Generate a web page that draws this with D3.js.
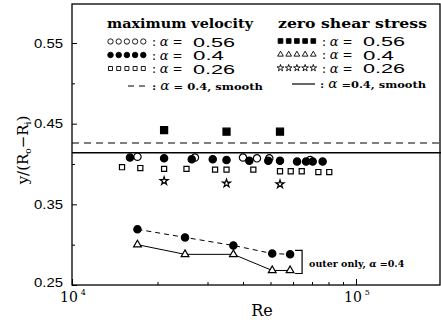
<!DOCTYPE html>
<html>
<head>
<meta charset="utf-8">
<script src="https://cdn.jsdelivr.net/npm/d3@7"></script>
<style>
body { margin: 0; background: #fff; }
text { fill: #000; }
</style>
</head>
<body>
<div id="chart"></div>
<script>
// Reynolds number / position data
const maxVel056Re = [17000, 27100, 40000, 44800, 49500, 68900];
const maxVel056Y = [0.409, 0.408, 0.408, 0.407, 0.407, 0.405];

const maxVel04Re = [16000, 21100, 26400, 31300, 35000, 42100, 49100, 54000, 62000, 66700, 70400, 76300];
const maxVel04Y = [0.408, 0.407, 0.406, 0.406, 0.405, 0.404, 0.404, 0.404, 0.403, 0.403, 0.403, 0.403];

const maxVel026Re = [15000, 17400, 21100, 25300, 31900, 35000, 43500, 54000, 58900, 64400, 73700, 80500];
const maxVel026Y = [0.396, 0.395, 0.394, 0.394, 0.393, 0.393, 0.393, 0.391, 0.391, 0.391, 0.390, 0.390];

const zeroShearRe = [21100, 35000, 54000];
const zeroShear056Y = [0.442, 0.440, 0.440];
const zeroShear026Y = [0.379, 0.376, 0.375];

// alpha = 0.4 smooth wall reference levels
const maxVelSmooth = 0.426;
const zeroShearSmooth = 0.414;

// outer wall only, alpha = 0.4
const outerRe = [17000, 25000, 37000, 50700, 58600];
const outerMaxVelY = [0.319, 0.309, 0.299, 0.289, 0.288];
const outerZeroShearY = [0.300, 0.288, 0.288, 0.268, 0.268];

const yMajorTicks = [0.25, 0.35, 0.45, 0.55];
const yMinorTicks = [0.30, 0.40, 0.50];
const xMajorTicks = [1e4, 1e5];
const xMinorTicks = [2e4, 3e4, 4e4, 5e4, 6e4, 7e4, 8e4, 9e4];

const W = 441, H = 320;
const plotLeft = 72, plotRight = 440, plotTop = 4, plotBottom = 285;

const svg = d3.select('#chart').append('svg')
    .attr('width', W).attr('height', H);

const x = d3.scaleLog().domain([1e4, 2e5]).range([plotLeft, plotRight + 1.5]);
const y = d3.scaleLinear().domain([0.25, 0.6]).range([plotBottom, plotBottom - 0.35 * 806.7]);

// frame
svg.append('rect')
    .attr('x', plotLeft).attr('y', plotTop)
    .attr('width', plotRight - plotLeft).attr('height', plotBottom - plotTop)
    .attr('fill', 'none').attr('stroke', '#000').attr('stroke-width', 1.3);

// y axis (ticks point inward)
const yAxis = svg.append('g')
    .attr('transform', `translate(${plotLeft},0)`)
    .call(d3.axisLeft(y).tickValues(yMajorTicks).tickSize(-5).tickPadding(9)
        .tickFormat(d3.format('.2f')));
yAxis.select('.domain').remove();
yAxis.selectAll('text')
    .attr('font-family', 'Liberation Sans, Arial, sans-serif')
    .attr('font-size', 13)
    .attr('textLength', 29)
    .attr('lengthAdjust', 'spacingAndGlyphs');
yAxis.selectAll('.tick').filter(d => d === 0.25).select('text').attr('dy', '0.1em');

const yMinor = svg.append('g')
    .attr('transform', `translate(${plotLeft},0)`)
    .call(d3.axisLeft(y).tickValues(yMinorTicks).tickSize(-3).tickFormat(''));
yMinor.select('.domain').remove();

// x axis
const xAxis = svg.append('g')
    .attr('transform', `translate(0,${plotBottom})`)
    .call(d3.axisBottom(x).tickValues(xMajorTicks).tickSize(-6).tickFormat(''));
xAxis.select('.domain').remove();
const xMinor = svg.append('g')
    .attr('transform', `translate(0,${plotBottom})`)
    .call(d3.axisBottom(x).tickValues(xMinorTicks).tickSize(-3).tickFormat(''));
xMinor.select('.domain').remove();

const xLabels = svg.append('g').selectAll('text')
    .data(xMajorTicks)
    .enter().append('text')
    .attr('x', d => x(d) - 12)
    .attr('y', 302)
    .attr('font-family', 'DejaVu Serif, serif')
    .attr('font-size', 14);
xLabels.append('tspan').text('10');
xLabels.append('tspan')
    .attr('dx', 3).attr('dy', -7)
    .attr('font-size', 8)
    .text(d => Math.round(Math.log10(d)));

// axis titles
svg.append('text')
    .attr('x', 262).attr('y', 316)
    .attr('text-anchor', 'middle')
    .attr('font-family', 'DejaVu Serif, serif')
    .attr('font-size', 16)
    .text('Re');

const yTitle = svg.append('text')
    .attr('transform', 'translate(28,150) rotate(-90)')
    .attr('text-anchor', 'middle')
    .attr('font-family', 'DejaVu Serif, serif')
    .attr('font-size', 15);
yTitle.append('tspan').text('y/(R');
yTitle.append('tspan').attr('font-size', 9).attr('dy', 3).text('o');
yTitle.append('tspan').attr('dy', -3).text('\u2212R');
yTitle.append('tspan').attr('font-size', 9).attr('dy', 3).text('i');
yTitle.append('tspan').attr('dy', -3).text(')');

// smooth reference lines
const hline = d3.line().x(d => x(d[0])).y(d => y(d[1]));
svg.append('path')
    .attr('d', hline(x.domain().map(r => [r, maxVelSmooth])))
    .attr('fill', 'none').attr('stroke', '#000').attr('stroke-width', 1.2)
    .attr('stroke-dasharray', '7,5');
svg.append('path')
    .attr('d', hline(x.domain().map(r => [r, zeroShearSmooth])))
    .attr('fill', 'none').attr('stroke', '#000').attr('stroke-width', 1.4);

// marker helper
function drawMarkers(reArr, yArr, type, size, filled) {
    const sym = d3.symbol().type(type).size(size);
    svg.append('g').selectAll('path')
        .data(reArr.map((r, i) => [r, yArr[i]]))
        .enter().append('path')
        .attr('transform', d => `translate(${x(d[0])},${y(d[1])})`)
        .attr('d', sym)
        .attr('fill', filled ? '#000' : '#fff')
        .attr('stroke', '#000')
        .attr('stroke-width', 1.2);
}

drawMarkers(maxVel026Re, maxVel026Y, d3.symbolSquare, 26, false);
drawMarkers(maxVel056Re, maxVel056Y, d3.symbolCircle, 42, false);
drawMarkers(maxVel04Re, maxVel04Y, d3.symbolCircle, 42, true);
drawMarkers(zeroShearRe, zeroShear056Y, d3.symbolSquare, 50, true);
drawMarkers(zeroShearRe, zeroShear026Y, d3.symbolStar, 20, false);

// outer only series
const line = d3.line().x((d, i) => x(outerRe[i])).y(d => y(d));
svg.append('path')
    .attr('d', line(outerMaxVelY))
    .attr('fill', 'none').attr('stroke', '#000').attr('stroke-width', 1)
    .attr('stroke-dasharray', '5,4');
svg.append('path')
    .attr('d', line(outerZeroShearY))
    .attr('fill', 'none').attr('stroke', '#000').attr('stroke-width', 1);
drawMarkers(outerRe, outerMaxVelY, d3.symbolCircle, 42, true);
drawMarkers(outerRe, outerZeroShearY, d3.symbolTriangle, 26, false);

// bracket + note
const bx = x(outerRe[4]) + 12;
const by0 = y(outerMaxVelY[4]) - 4, by1 = y(outerZeroShearY[4]) + 3;
svg.append('path')
    .attr('d', `M${bx - 7},${by0}H${bx}V${by1}H${bx - 7}`)
    .attr('fill', 'none').attr('stroke', '#000').attr('stroke-width', 1.2);
const note = svg.append('text')
    .attr('x', bx + 7).attr('y', 267)
    .attr('font-family', 'DejaVu Serif, serif')
    .attr('font-weight', 'bold')
    .attr('font-size', 9.5);
note.append('tspan').text('outer only, ');
note.append('tspan').attr('font-style', 'italic').text('\u03b1');
note.append('tspan').text(' =0.4');

// legend
const legend = svg.append('g');

function legendTitle(tx, ty, label, len) {
    legend.append('text')
        .attr('x', tx).attr('y', ty)
        .attr('font-family', 'DejaVu Serif, serif')
        .attr('font-weight', 'bold')
        .attr('font-size', 13.5)
        .attr('textLength', len)
        .attr('lengthAdjust', 'spacingAndGlyphs')
        .text(label);
}
legendTitle(107, 28, 'maximum velocity', 146);
legendTitle(278, 28, 'zero shear stress', 149);

function legendRow(mx, my, type, size, filled, value) {
    const sym = d3.symbol().type(type).size(size);
    legend.append('g').selectAll('path')
        .data(d3.range(5))
        .enter().append('path')
        .attr('transform', i => `translate(${mx + 3.5 + i * 8.2},${my})`)
        .attr('d', sym)
        .attr('fill', filled ? '#000' : '#fff')
        .attr('stroke', '#000')
        .attr('stroke-width', 0.9);
    const t = legend.append('text')
        .attr('x', mx + 45).attr('y', my + 4.5)
        .attr('font-family', 'DejaVu Serif, serif')
        .attr('font-size', 12);
    t.append('tspan').text(': ');
    t.append('tspan').attr('font-style', 'italic').attr('font-size', 13).text('\u03b1');
    t.append('tspan').text(' =');
    legend.append('text')
        .attr('x', mx + 86).attr('y', my + 5)
        .attr('font-family', 'Liberation Sans, Arial, sans-serif')
        .attr('font-size', 12.5)
        .attr('textLength', value.length * 11 - 2)
        .attr('lengthAdjust', 'spacingAndGlyphs')
        .text(value);
}
legendRow(107, 41.5, d3.symbolCircle, 22, false, '0.56');
legendRow(107, 55, d3.symbolCircle, 24, true, '0.4');
legendRow(107, 68.5, d3.symbolSquare, 16, false, '0.26');
legendRow(277, 41, d3.symbolSquare, 22, true, '0.56');
legendRow(277, 54.5, d3.symbolTriangle, 14, false, '0.4');
legendRow(277, 68, d3.symbolStar, 14, false, '0.26');

function smoothRow(x0, x1, ly, dashed, label, tx, len) {
    legend.append('line')
        .attr('x1', x0).attr('x2', x1).attr('y1', ly).attr('y2', ly)
        .attr('stroke', '#000').attr('stroke-width', 1.2)
        .attr('stroke-dasharray', dashed ? '6,5' : null);
    const t = legend.append('text')
        .attr('x', tx).attr('y', ly + 4)
        .attr('font-family', 'DejaVu Serif, serif')
        .attr('font-weight', 'bold')
        .attr('font-size', 10)
        .attr('textLength', len)
        .attr('lengthAdjust', 'spacingAndGlyphs');
    t.append('tspan').text(': ');
    t.append('tspan').attr('font-style', 'italic').attr('font-weight', 'normal').attr('font-size', 12).text('\u03b1');
    t.append('tspan').text(label);
}
smoothRow(128, 148, 86, true, ' = 0.4, smooth', 152, 111);
smoothRow(292, 315, 84, false, ' =0.4, smooth', 320, 106);
</script>
</body>
</html>
